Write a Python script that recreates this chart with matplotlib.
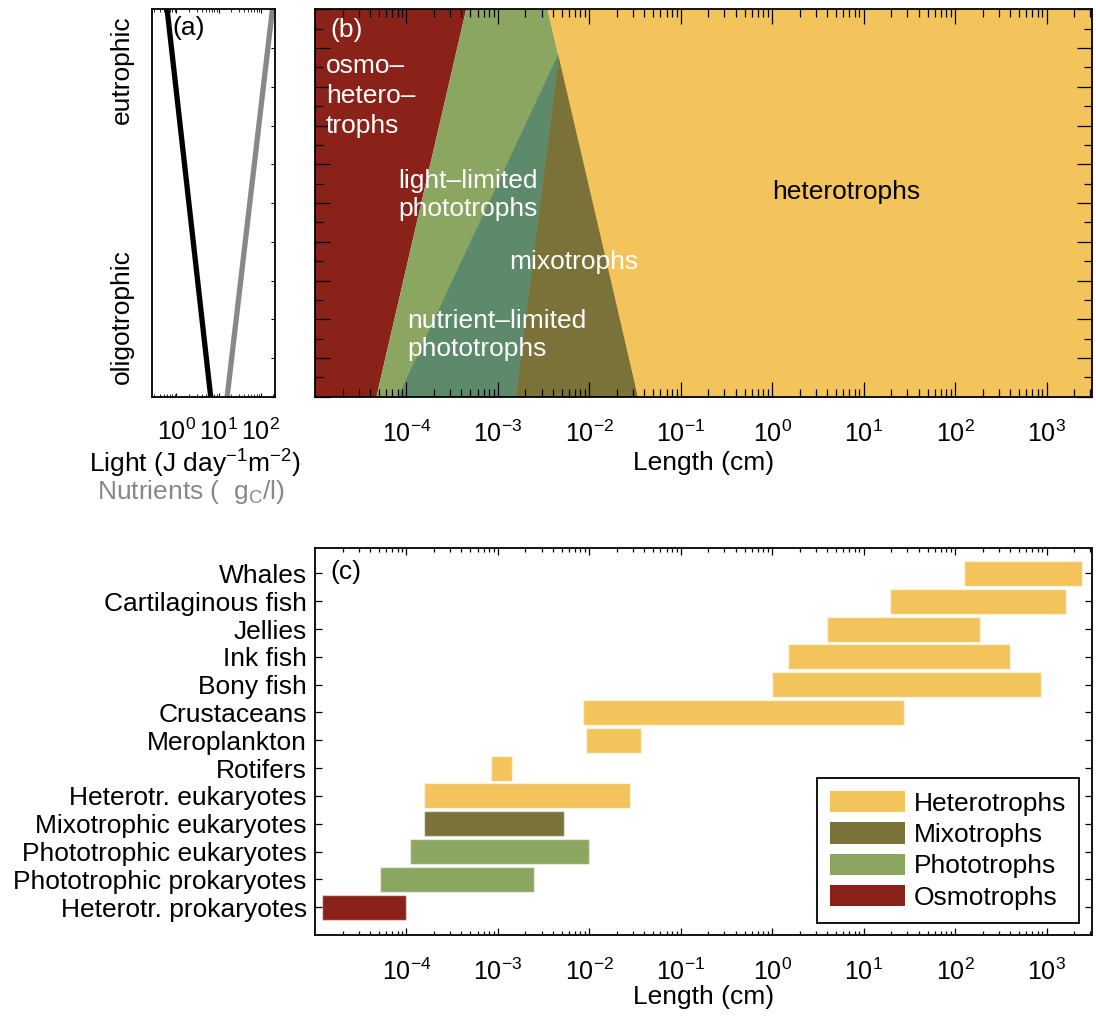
import numpy as np
import matplotlib
matplotlib.use("Agg")
import matplotlib.pyplot as plt
from matplotlib.patches import Patch
from matplotlib.ticker import MultipleLocator, NullFormatter

plt.rcParams['font.family'] = ['Liberation Sans', 'DejaVu Sans']
plt.rcParams['mathtext.fontset'] = 'custom'
plt.rcParams['mathtext.rm'] = 'Liberation Sans'
plt.rcParams['mathtext.it'] = 'Liberation Sans:italic'
plt.rcParams['mathtext.bf'] = 'Liberation Sans:bold'
plt.rcParams['font.size'] = 19

FS = 19      # text size
TFS = 18     # tick label size

# colours
c_het = "#F2C45B"
c_mix = "#7A7238"
c_pho = "#8AA660"
c_osm = "#8A2219"
c_nut = "#5C8A6B"

# (a) light and nutrients along the trophic gradient (y: 0 = oligotrophic, 1 = eutrophic)
trophic_y = [0, 1]
light = [6.5, 0.6]
nutrients = [16, 190]

# (b) boundaries in length (cm), bottom / top of the gradient
osmo_edge = [4.7e-5, 4.5e-4]        # osmotrophs | phototrophs
hetero_edge = [3.4e-2, 3.5e-3]      # bottom, top: mixo/photo | heterotrophs
peak_len, peak_y = 4.7e-3, 0.89     # apex of nutrient-limited / mixotroph wedge
nutlim_left = 8.1e-5                # left foot of nutrient-limited phototrophs
mixo_left = 1.57e-3                 # left foot of mixotrophs
len_min, len_max = 1e-5, 10 ** 3.5

# (c) size ranges
groups = ["Heterotr. prokaryotes", "Phototrophic prokaryotes", "Phototrophic eukaryotes",
          "Mixotrophic eukaryotes", "Heterotr. eukaryotes", "Rotifers", "Meroplankton",
          "Crustaceans", "Bony fish", "Ink fish", "Jellies", "Cartilaginous fish", "Whales"]
size_lo = [1.2e-5, 5.1e-5, 1.1e-4, 1.55e-4, 1.55e-4, 8.4e-4, 9.3e-3,
           8.5e-3, 1.0, 1.5, 4.0, 19.5, 125]
size_hi = [1.0e-4, 2.5e-3, 9.9e-3, 5.3e-3, 2.75e-2, 1.42e-3, 3.65e-2,
           27.5, 870, 400, 186, 1620, 2450]
group_type = ["osm", "pho", "pho", "mix", "het", "het", "het",
              "het", "het", "het", "het", "het", "het"]
type_color = {"het": c_het, "mix": c_mix, "pho": c_pho, "osm": c_osm}

fig = plt.figure(figsize=(10.96, 10.17), dpi=100)
ax_a = fig.add_axes([0.1391, 0.6099, 0.1118, 0.3809])
ax_b = fig.add_axes([0.2874, 0.6099, 0.7092, 0.3809])
ax_c = fig.add_axes([0.2874, 0.0806, 0.7092, 0.3802])

for ax in (ax_a, ax_b, ax_c):
    for s in ax.spines.values():
        s.set_linewidth(1.3)

# ---- (a)
ax_a.plot(light, trophic_y, color="black", lw=3.8, solid_capstyle="butt")
ax_a.plot(nutrients, trophic_y, color="#888888", lw=3.8, solid_capstyle="butt")
ax_a.set_xscale("log")
ax_a.set_xlim(10 ** -0.57, 10 ** 2.34)
ax_a.set_ylim(0, 1)
ax_a.set_xticks([1, 10, 100])
ax_a.yaxis.set_major_locator(MultipleLocator(0.1))
ax_a.set_yticklabels([])
ax_a.tick_params(axis="y", which="both", left=False, right=True, direction="in", length=3)
ax_a.tick_params(axis="x", which="major", direction="in", length=3, top=True, pad=16,
                 labelsize=TFS)
ax_a.tick_params(axis="x", which="minor", direction="in", length=2, top=True)
ax_a.text(0.16, 0.951, "(a)", transform=ax_a.transAxes, ha="left", va="center", fontsize=FS)
fig.text(0.111, 0.9312, "eutrophic", rotation=90, ha="center", va="center", fontsize=FS)
fig.text(0.111, 0.6883, "oligotrophic", rotation=90, ha="center", va="center", fontsize=FS)
fig.text(0.178, 0.5435, r"Light (J day$^{-1}$m$^{-2}$)", ha="center", va="center", fontsize=FS)
fig.text(0.1743, 0.5165, r"Nutrients (  g$_\mathrm{C}$/l)", ha="center", va="center",
         fontsize=FS, color="#888888")

# ---- (b)
ax_b.set_xscale("log")
ax_b.fill([len_min, osmo_edge[0], osmo_edge[1], len_min], [0, 0, 1, 1], color=c_osm, lw=0)
ax_b.fill([osmo_edge[0], osmo_edge[1], hetero_edge[1], hetero_edge[0]], [0, 1, 1, 0],
          color=c_pho, lw=0)
ax_b.fill([nutlim_left, peak_len, mixo_left], [0, peak_y, 0], color=c_nut, lw=0)
ax_b.fill([mixo_left, peak_len, hetero_edge[0]], [0, peak_y, 0], color=c_mix, lw=0)
ax_b.fill([hetero_edge[0], hetero_edge[1], len_max, len_max], [0, 1, 1, 0], color=c_het, lw=0)
ax_b.set_xlim(len_min, len_max)
ax_b.set_ylim(0, 1)
ax_b.set_xticks([10.0 ** k for k in range(-4, 4)])
ax_b.yaxis.set_major_locator(MultipleLocator(0.1))
ax_b.yaxis.set_minor_locator(MultipleLocator(0.05))
ax_b.yaxis.set_major_formatter(NullFormatter())
ax_b.tick_params(axis="both", which="major", direction="in", length=11, width=0.9,
                 top=True, right=True, pad=17, labelsize=TFS)
ax_b.tick_params(axis="both", which="minor", direction="in", length=5.5, width=0.9,
                 top=True, right=True)
ax_b.tick_params(axis="y", which="both", pad=2)
ax_b.text(0.5, -0.171, "Length (cm)", transform=ax_b.transAxes, ha="center", va="center",
          fontsize=FS)

tk = dict(transform=ax_b.transAxes, color="white", fontsize=FS, ha="left", va="center")
ax_b.text(0.0193, 0.9466, "(b)", **tk)
ax_b.text(0.0142, 0.776, "osmo\u2013\nhetero\u2013\ntrophs", linespacing=1.33, **tk)
ax_b.text(0.1068, 0.5207, "light\u2013limited\nphototrophs", linespacing=1.24, **tk)
ax_b.text(0.2496, 0.3477, "mixotrophs", **tk)
ax_b.text(0.1184, 0.159, "nutrient\u2013limited\nphototrophs", linespacing=1.24, **tk)
ax_b.text(0.6831, 0.5284, "heterotrophs", transform=ax_b.transAxes, color="black",
          fontsize=FS, ha="center", va="center")

# ---- (c)
ypos = np.arange(1, len(groups) + 1)
widths = np.array(size_hi) - np.array(size_lo)
ax_c.barh(ypos, widths, left=size_lo, height=0.9,
          color=[type_color[t] for t in group_type],
          edgecolor=(1, 1, 1, 0.55), linewidth=1.0)
ax_c.set_xscale("log")
ax_c.set_xlim(len_min, len_max)
ax_c.set_ylim(0, 13.9)
ax_c.set_yticks(ypos)
ax_c.set_yticklabels(groups, fontsize=FS)
ax_c.set_xticks([10.0 ** k for k in range(-4, 4)])
ax_c.tick_params(axis="both", which="major", direction="in", length=5, width=0.9,
                 top=True, right=True)
ax_c.tick_params(axis="x", which="major", pad=17, labelsize=TFS)
ax_c.tick_params(axis="y", which="major", pad=6)
ax_c.tick_params(axis="both", which="minor", direction="in", length=3, width=0.9,
                 top=True, right=True)
ax_c.text(0.0193, 0.9387, "(c)", transform=ax_c.transAxes, ha="left", va="center", fontsize=FS)
ax_c.text(0.5, -0.16, "Length (cm)", transform=ax_c.transAxes, ha="center", va="center",
          fontsize=FS)

handles = [Patch(facecolor=c_het, label="Heterotrophs"),
           Patch(facecolor=c_mix, label="Mixotrophs"),
           Patch(facecolor=c_pho, label="Phototrophs"),
           Patch(facecolor=c_osm, label="Osmotrophs")]
leg = ax_c.legend(handles=handles, loc="lower right", bbox_to_anchor=(0.983, 0.031),
                  borderaxespad=0, fancybox=False, framealpha=1, edgecolor="black",
                  handlelength=2.85, handleheight=0.87, handletextpad=0.32,
                  labelspacing=0.25, borderpad=0.5, fontsize=FS)
leg.get_frame().set_linewidth(1.3)

fig.savefig("out.png", dpi=100)
